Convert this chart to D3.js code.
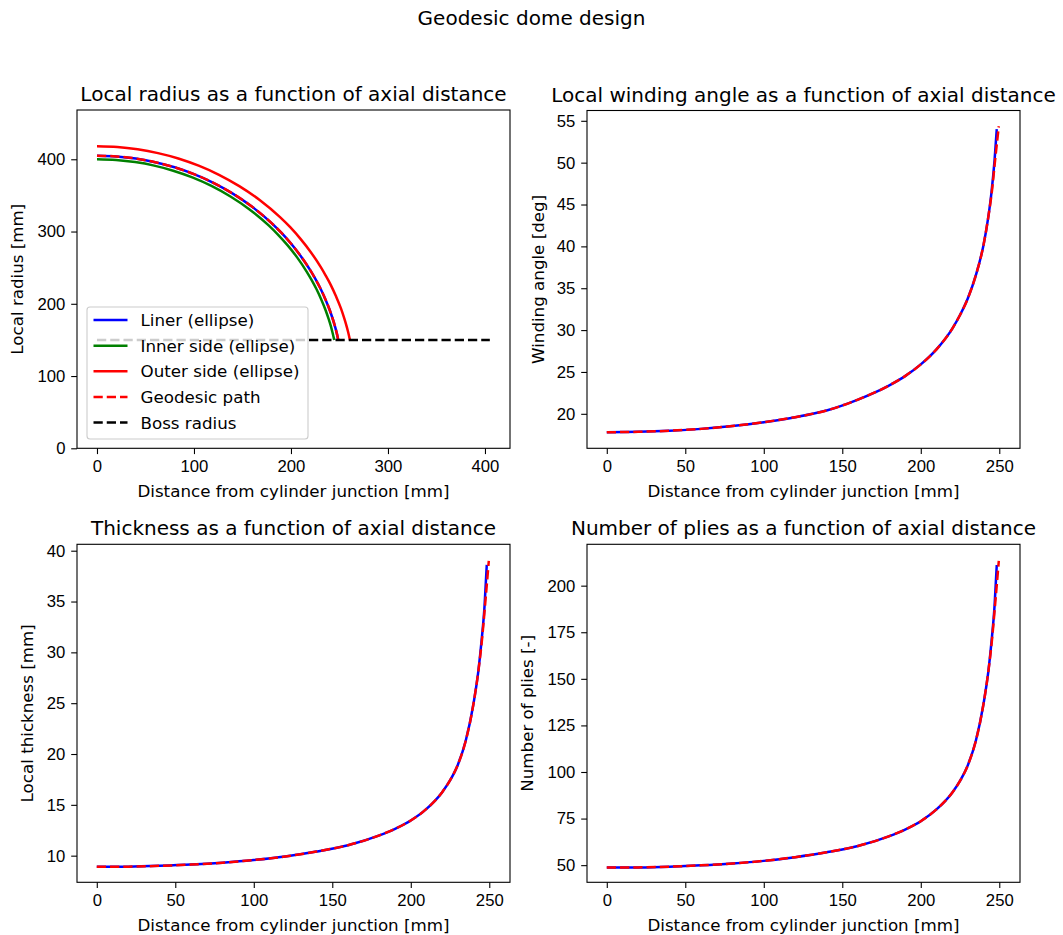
<!DOCTYPE html>
<html>
<head>
<meta charset="utf-8">
<script src="https://cdn.jsdelivr.net/npm/d3@7/dist/d3.min.js"></script>
<style>
  body { margin: 0; background: #fff; }
  svg { font-family: "DejaVu Sans", sans-serif; }
  .tick text { font-size: 16.7px; fill: #000; }
  .tick line { stroke: #000; stroke-width: 1.1; }
</style>
</head>
<body>
<svg id="figura" width="1063" height="935"></svg>
<script>
// ---- radio local (mm) vs distancia axial (mm)
const dist_liner = [0, 20, 40, 60, 80, 100, 120, 140, 160, 180, 190, 200, 210, 220, 225, 230, 235, 240, 243, 245, 247, 248.8];
const radio_liner = [405, 404.0, 401.0, 396.0, 388.9, 379.4, 367.4, 352.5, 334.2, 311.7, 298.4, 283.4, 266.2, 246.2, 234.8, 222.2, 207.8, 191.1, 179.3, 170.5, 160.5, 150];

const dist_interior = [0, 19.7, 39.3, 59.0, 78.6, 98.3, 118.0, 137.6, 157.3, 177.0, 186.8, 196.6, 206.5, 216.3, 221.2, 226.1, 231.0, 235.9, 238.9, 240.9, 242.8, 244.6];
const radio_interior = [400, 399.0, 396.1, 391.2, 384.2, 374.9, 363.1, 348.5, 330.6, 308.5, 295.5, 280.8, 263.9, 244.3, 233.1, 220.8, 206.7, 190.3, 178.7, 170.1, 160.3, 150];

const dist_exterior = [0, 21.0, 41.9, 62.9, 83.9, 104.8, 125.8, 146.7, 167.7, 188.7, 199.2, 209.6, 220.1, 230.6, 235.8, 241.1, 246.3, 251.6, 254.7, 256.8, 258.9, 260.8];
const radio_exterior = [418, 417.0, 413.8, 408.5, 401.1, 391.1, 378.5, 362.8, 343.6, 319.9, 306.0, 290.2, 272.1, 251.1, 239.1, 225.9, 210.7, 193.2, 180.8, 171.5, 161.0, 150];

const dist_geodesica = [0, 20, 40, 60, 80, 100, 120, 140, 160, 180, 190, 200, 210, 220, 225, 230, 235, 240, 243, 245, 247, 248.8];
const radio_geodesica = [405, 404.0, 401.0, 396.0, 388.9, 379.4, 367.4, 352.5, 334.2, 311.7, 298.4, 283.4, 266.2, 246.2, 234.8, 222.2, 207.8, 191.1, 179.3, 170.5, 160.5, 150];

const dist_boss = [0, 405];
const radio_boss = [150, 150];

// ---- angulo, espesor y numero de capas
const dist_curva = [0, 20, 40, 60, 80, 100, 120, 140, 160, 180, 190, 200, 210, 220, 225, 230, 235, 240, 243, 245, 247, 248.4];
const dist_curva_geo = [0, 20, 40, 60, 80, 100, 120, 140, 160, 180, 190, 200, 210, 220, 225, 230, 235, 240, 243, 245.2, 247.4, 249.7];

const angulo_liner = [17.8, 17.85, 17.98, 18.2, 18.54, 19.0, 19.6, 20.4, 21.7, 23.4, 24.5, 25.9, 27.7, 30.15, 31.8, 33.8, 36.5, 40.2, 43.5, 46.4, 50.3, 54.0];
const angulo_geo = [17.8, 17.85, 17.98, 18.2, 18.54, 19.0, 19.6, 20.4, 21.7, 23.4, 24.5, 25.9, 27.7, 30.15, 31.8, 33.8, 36.5, 40.2, 43.5, 46.4, 50.4, 54.35];

const espesor_liner = [8.9, 8.92, 9.0, 9.12, 9.31, 9.57, 9.92, 10.4, 11.03, 12.0, 12.64, 13.46, 14.6, 16.25, 17.4, 18.95, 21.3, 25.0, 28.1, 31.0, 34.6, 38.6];
const espesor_geo = [8.9, 8.92, 9.0, 9.12, 9.31, 9.57, 9.92, 10.4, 11.03, 12.0, 12.64, 13.46, 14.6, 16.25, 17.4, 18.95, 21.3, 25.0, 28.1, 31.0, 34.8, 39.0];

const capas_liner = [48.7, 48.8, 49.2, 49.9, 50.9, 52.3, 54.3, 56.9, 60.3, 65.6, 69.1, 73.6, 79.9, 88.9, 95.2, 103.7, 116.5, 136.8, 153.7, 169.6, 189.3, 211.1];
const capas_geo = [48.7, 48.8, 49.2, 49.9, 50.9, 52.3, 54.3, 56.9, 60.3, 65.6, 69.1, 73.6, 79.9, 88.9, 95.2, 103.7, 116.5, 136.8, 153.7, 169.6, 190.4, 213.3];

// ---- ticks
const ticks_x_radio = [0, 100, 200, 300, 400];
const ticks_y_radio = [0, 100, 200, 300, 400];
const ticks_x = [0, 50, 100, 150, 200, 250];
const ticks_y_angulo = [20, 25, 30, 35, 40, 45, 50, 55];
const ticks_y_espesor = [10, 15, 20, 25, 30, 35, 40];
const ticks_y_capas = [50, 75, 100, 125, 150, 175, 200];

const leyenda = [
  {nombre: 'Liner (ellipse)', color: '#0000ff', guion: null},
  {nombre: 'Inner side (ellipse)', color: '#008000', guion: null},
  {nombre: 'Outer side (ellipse)', color: '#ff0000', guion: null},
  {nombre: 'Geodesic path', color: '#ff0000', guion: '9.25,4'},
  {nombre: 'Boss radius', color: '#000000', guion: '9.25,4'}
];

const svg = d3.select('#figura');
const grosor = 2.5;
const guiones = '9.25,4';

svg.append('text')
  .attr('x', 531.5).attr('y', 25)
  .attr('text-anchor', 'middle')
  .style('font-size', '20px')
  .text('Geodesic dome design');

function panel(p) {
  const x = d3.scaleLinear().domain(p.dx).range([p.left, p.right]);
  const y = d3.scaleLinear().domain(p.dy).range([p.bottom, p.top]);
  const g = svg.append('g');
  const lineas = g.append('g');

  const ejeX = g.append('g')
    .attr('transform', `translate(0,${p.bottom})`)
    .call(d3.axisBottom(x).tickValues(p.tx).tickSize(5.8).tickPadding(6.5).tickFormat(d3.format('d')));
  ejeX.select('.domain').remove();

  const ejeY = g.append('g')
    .attr('transform', `translate(${p.left},0)`)
    .call(d3.axisLeft(y).tickValues(p.ty).tickSize(5.8).tickPadding(5.8).tickFormat(d3.format('d')));
  ejeY.select('.domain').remove();

  g.append('rect')
    .attr('x', p.left).attr('y', p.top)
    .attr('width', p.right - p.left).attr('height', p.bottom - p.top)
    .attr('fill', 'none').attr('stroke', '#000').attr('stroke-width', 1.1);

  g.append('text')
    .attr('x', (p.left + p.right) / 2).attr('y', p.top - 9)
    .attr('text-anchor', 'middle')
    .style('font-size', '20px')
    .text(p.titulo);

  g.append('text')
    .attr('x', (p.left + p.right) / 2).attr('y', p.bottom + 49)
    .attr('text-anchor', 'middle')
    .style('font-size', '16.7px')
    .text('Distance from cylinder junction [mm]');

  g.append('text')
    .attr('transform', `translate(${p.ylab},${(p.top + p.bottom) / 2}) rotate(-90)`)
    .attr('dy', '0.36em')
    .attr('text-anchor', 'middle')
    .style('font-size', '16.7px')
    .text(p.etiquetaY);

  return {lineas, x, y};
}

function serie(pn, xs, ys, color, guion) {
  const puntos = xs.map((d, i) => [d, ys[i]]);
  const linea = d3.line()
    .x(d => pn.x(d[0]))
    .y(d => pn.y(d[1]))
    .curve(d3.curveMonotoneX);
  pn.lineas.append('path')
    .datum(puntos)
    .attr('d', linea)
    .attr('fill', 'none')
    .attr('stroke', color)
    .attr('stroke-width', grosor)
    .attr('stroke-dasharray', guion);
}

// panel 1: radio
const p1 = panel({
  left: 77, right: 510, top: 110, bottom: 448.3,
  dx: [-20.6, 425.8], dy: [0, 468.2],
  tx: ticks_x_radio, ty: ticks_y_radio,
  titulo: 'Local radius as a function of axial distance',
  etiquetaY: 'Local radius [mm]', ylab: 17
});
serie(p1, dist_liner, radio_liner, '#0000ff', null);
serie(p1, dist_interior, radio_interior, '#008000', null);
serie(p1, dist_exterior, radio_exterior, '#ff0000', null);
serie(p1, dist_geodesica, radio_geodesica, '#ff0000', guiones);
serie(p1, dist_boss, radio_boss, '#000000', guiones);

// leyenda
const ley = svg.append('g');
ley.append('rect')
  .attr('x', 87).attr('y', 307).attr('width', 221).attr('height', 132)
  .attr('rx', 3)
  .attr('fill', '#fff').attr('fill-opacity', 0.8)
  .attr('stroke', '#cccccc').attr('stroke-width', 1.1);
const filas = ley.selectAll('.fila')
  .data(leyenda)
  .join('g')
  .attr('class', 'fila')
  .attr('transform', (d, i) => `translate(0,${320 + i * 25.65})`);
filas.append('line')
  .attr('x1', 93.5).attr('x2', 127.5)
  .attr('stroke', d => d.color)
  .attr('stroke-width', grosor)
  .attr('stroke-dasharray', d => d.guion);
filas.append('text')
  .attr('x', 140.5).attr('dy', '0.36em')
  .style('font-size', '16.7px')
  .text(d => d.nombre);

// panel 2: angulo
const p2 = panel({
  left: 587, right: 1020, top: 110.5, bottom: 448.3,
  dx: [-12.6, 263.2], dy: [15.88, 56.23],
  tx: ticks_x, ty: ticks_y_angulo,
  titulo: 'Local winding angle as a function of axial distance',
  etiquetaY: 'Winding angle [deg]', ylab: 538
});
serie(p2, dist_curva, angulo_liner, '#0000ff', null);
serie(p2, dist_curva_geo, angulo_geo, '#ff0000', guiones);

// panel 3: espesor
const p3 = panel({
  left: 77, right: 510, top: 544.3, bottom: 882.3,
  dx: [-12.6, 263.2], dy: [7.38, 40.63],
  tx: ticks_x, ty: ticks_y_espesor,
  titulo: 'Thickness as a function of axial distance',
  etiquetaY: 'Local thickness [mm]', ylab: 27
});
serie(p3, dist_curva, espesor_liner, '#0000ff', null);
serie(p3, dist_curva_geo, espesor_geo, '#ff0000', guiones);

// panel 4: capas
const p4 = panel({
  left: 587, right: 1020, top: 544.3, bottom: 882.3,
  dx: [-12.6, 263.2], dy: [40.8, 222.2],
  tx: ticks_x, ty: ticks_y_capas,
  titulo: 'Number of plies as a function of axial distance',
  etiquetaY: 'Number of plies [-]', ylab: 527
});
serie(p4, dist_curva, capas_liner, '#0000ff', null);
serie(p4, dist_curva_geo, capas_geo, '#ff0000', guiones);
</script>
</body>
</html>
